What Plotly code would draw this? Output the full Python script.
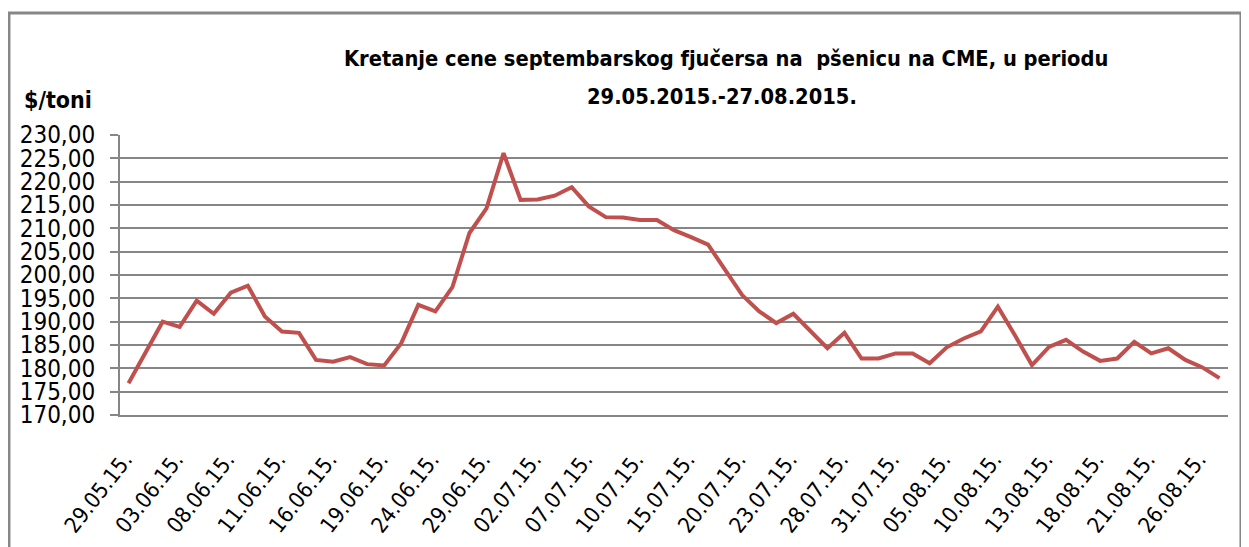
import plotly.graph_objects as go

dates = [
    "29.05.15.",
    "01.06.15.", "02.06.15.", "03.06.15.", "04.06.15.", "05.06.15.",
    "08.06.15.", "09.06.15.", "10.06.15.", "11.06.15.", "12.06.15.",
    "15.06.15.", "16.06.15.", "17.06.15.", "18.06.15.", "19.06.15.",
    "22.06.15.", "23.06.15.", "24.06.15.", "25.06.15.", "26.06.15.",
    "29.06.15.", "30.06.15.",
    "01.07.15.", "02.07.15.", "03.07.15.",
    "06.07.15.", "07.07.15.", "08.07.15.", "09.07.15.", "10.07.15.",
    "13.07.15.", "14.07.15.", "15.07.15.", "16.07.15.", "17.07.15.",
    "20.07.15.", "21.07.15.", "22.07.15.", "23.07.15.", "24.07.15.",
    "27.07.15.", "28.07.15.", "29.07.15.", "30.07.15.", "31.07.15.",
    "03.08.15.", "04.08.15.", "05.08.15.", "06.08.15.", "07.08.15.",
    "10.08.15.", "11.08.15.", "12.08.15.", "13.08.15.", "14.08.15.",
    "17.08.15.", "18.08.15.", "19.08.15.", "20.08.15.", "21.08.15.",
    "24.08.15.", "25.08.15.", "26.08.15.", "27.08.15.",
]

prices = [
    176.8, 183.3, 190.0, 188.9, 194.5, 191.7, 196.2, 197.7, 191.1, 187.9,
    187.6, 181.8, 181.4, 182.4, 180.9, 180.6, 185.4, 193.6, 192.2, 197.4,
    209.0, 214.3, 226.1, 216.1, 216.2, 217.0, 218.8, 214.7, 212.4, 212.3,
    211.8, 211.8, 209.6, 208.1, 206.5, 201.1, 195.7, 192.2, 189.7, 191.7,
    187.9, 184.3, 187.6, 182.1, 182.1, 183.2, 183.2, 181.1, 184.5, 186.4,
    187.9, 193.2, 187.1, 180.7, 184.6, 186.1, 183.6, 181.6, 182.1, 185.7,
    183.2, 184.3, 181.8, 180.2, 177.9,
]

tick_labels = dates[::3]
y_ticks = list(range(170, 231, 5))

title_line1 = "Kretanje cene septembarskog fjučersa na  pšenicu na CME, u periodu"
title_line2 = "29.05.2015.-27.08.2015."
y_unit = "$/toni"

FONT = "DejaVu Sans Condensed, Liberation Sans Narrow, sans-serif"
GRID = "#868686"

fig = go.Figure()
fig.add_trace(go.Scatter(
    x=dates, y=prices, mode="lines",
    line=dict(color="#C0504D", width=4),
    showlegend=False,
))

fig.update_layout(
    width=1249, height=547,
    margin=dict(l=112, r=29, t=127, b=140, autoexpand=False),
    paper_bgcolor="white", plot_bgcolor="white",
    separators=",.",
    font=dict(family=FONT, color="black"),
    xaxis=dict(
        type="category",
        range=[-0.5, len(dates) - 0.5],
        tickmode="array",
        tickvals=tick_labels,
        ticktext=[t + "\u00a0" for t in tick_labels],
        tickangle=-52,
        tickfont=dict(size=22, family=FONT),
        ticklabelstandoff=16,
        showgrid=False,
        showline=True, linecolor=GRID, linewidth=2,
        ticks="", zeroline=False,
        automargin=False,
    ),
    yaxis=dict(
        range=[170, 230],
        tickmode="array",
        tickvals=y_ticks,
        tickformat=".2f",
        tickfont=dict(size=24, family=FONT),
        ticklabelstandoff=10,
        showgrid=True, gridcolor=GRID, gridwidth=2,
        showline=True, linecolor=GRID, linewidth=2,
        ticks="outside", ticklen=8, tickcolor=GRID, tickwidth=2,
        zeroline=False,
        automargin=False,
    ),
    annotations=[
        dict(text="<b>" + title_line1 + "</b>", xref="paper", yref="paper",
             x=0.547, y=1.275, xanchor="center", yanchor="middle",
             showarrow=False, font=dict(size=21.7, family=FONT)),
        dict(text="<b>" + title_line2 + "</b>", xref="paper", yref="paper",
             x=0.5433, y=1.136, xanchor="center", yanchor="middle",
             showarrow=False, font=dict(size=21.7, family=FONT)),
        dict(text="<b>" + y_unit + "</b>", xref="paper", yref="paper",
             x=-0.0884, y=1.125, xanchor="left", yanchor="middle",
             showarrow=False, font=dict(size=23, family=FONT)),
    ],
    shapes=[
        dict(type="rect", xref="paper", yref="paper",
             x0=-0.1002, x1=1.0117, y0=-0.49, y1=1.436,
             line=dict(color="#878787", width=3), layer="below"),
    ],
)

fig.write_html("out.html")
